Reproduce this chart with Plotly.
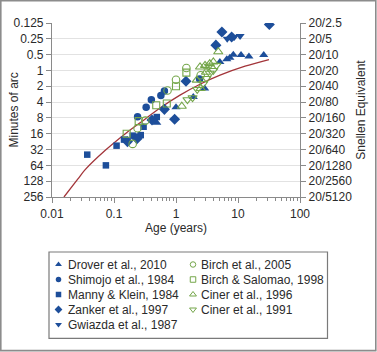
import math
import plotly.graph_objects as go

# ---------------- data (age in years, acuity in minutes of arc) ----------------
drover_age = [0.49, 1.0, 1.9, 2.9, 5.1, 6.6, 7.4, 8.4, 11.2, 15, 26]
drover_mar = [9.9, 5.0, 3.2, 2.2, 0.69, 0.61, 0.57, 0.50, 0.51, 0.54, 0.51]

shimojo_age = [0.24, 0.33, 0.40, 0.57, 0.65, 2.4]
shimojo_mar = [7.6, 5.0, 3.6, 3.0, 2.45, 1.46]

manny_age = [0.037, 0.074, 0.11, 0.145, 0.20, 0.24, 0.27, 0.30, 0.49]
manny_mar = [40, 64, 27, 20.7, 17.4, 18.3, 17, 11.8, 7.7]

zanker_age = [0.165, 0.235, 0.41, 0.65, 0.95, 1.45, 4.4, 5.5, 7.9, 32]
zanker_mar = [22.6, 20, 8.8, 5.5, 8.5, 1.6, 0.33, 0.185, 0.23, 0.134]

gwiazda_age = [6.7, 8.7, 10.8]
gwiazda_mar = [0.25, 0.23, 0.22]

birch05_age = [0.20, 0.24, 0.32, 0.73, 1.0, 1.47, 2.5]
birch05_mar = [25, 12.6, 9.0, 2.4, 1.5, 0.9, 1.23]

birchsal_age = [0.16, 0.25, 0.48, 0.71, 1.0, 1.47]
birchsal_mar = [16, 9.2, 4.6, 4.25, 2.0, 1.1]

ciner96_age = [1.24, 2.16, 2.44, 2.94, 3.5, 4.0, 4.8, 3.05, 2.5]
ciner96_mar = [4.8, 1.53, 0.86, 0.80, 0.74, 0.69, 0.44, 1.08, 2.2]

ciner91_age = [1.53, 1.85, 2.2, 2.76, 3.1, 3.5, 4.0, 4.5, 3.4]
ciner91_mar = [3.6, 3.3, 2.3, 1.77, 1.42, 1.13, 1.0, 0.80, 0.83]

curve_age = [0.0156, 0.0262, 0.034, 0.0716, 0.156, 0.316, 0.552, 1.16, 2.44, 5.13, 13.0, 31.6]
curve_mar = [256, 116, 78, 33.4, 15.6, 8.45, 5.2, 2.95, 1.83, 1.23, 0.83, 0.62]

mar_ticks = [0.125, 0.25, 0.5, 1, 2, 4, 8, 16, 32, 64, 128, 256]
mar_labels = ["0.125", "0.25", "0.5", "1", "2", "4", "8", "16", "32", "64", "128", "256"]
snellen_labels = ["20/2.5", "20/5", "20/10", "20/20", "20/40", "20/80", "20/160",
                  "20/320", "20/640", "20/1280", "20/2560", "20/5120"]
age_ticks = [0.01, 0.1, 1, 10, 100]
age_labels = ["0.01", "0.1", "1", "10", "100"]

# ---------------- styling ----------------
BLUE = "#1d4e9a"
GREEN = "#74a64a"
RED = "#a3353a"
TXT = "#2a2a2a"
AX = "#8a8a8a"
FONT = "Liberation Sans, Arial, Helvetica, sans-serif"

W, H = 377, 352
ML, MR, MT, MB = 52, 77, 23, 0
PLOT_BOTTOM = 197  # pixel row of the x axis
PAPER_H = H - MT - MB
PAPER_BOTTOM = H - MB

series = [
    ("Drover et al., 2010", drover_age, drover_mar, "triangle-up", BLUE, True, 8),
    ("Shimojo et al., 1984", shimojo_age, shimojo_mar, "circle", BLUE, True, 7.5),
    ("Manny & Klein, 1984", manny_age, manny_mar, "square", BLUE, True, 6.5),
    ("Zanker et al., 1997", zanker_age, zanker_mar, "diamond", BLUE, True, 8.5),
    ("Gwiazda et al., 1987", gwiazda_age, gwiazda_mar, "triangle-down", BLUE, True, 8),
    ("Birch et al., 2005", birch05_age, birch05_mar, "circle-open", GREEN, False, 7.5),
    ("Birch & Salomao, 1998", birchsal_age, birchsal_mar, "square-open", GREEN, False, 7),
    ("Ciner et al., 1996", ciner96_age, ciner96_mar, "triangle-up-open", GREEN, False, 8),
    ("Ciner et al., 1991", ciner91_age, ciner91_mar, "triangle-down-open", GREEN, False, 8),
]


def px_x(px):
    return (px - ML) / (W - ML - MR)


def px_y(py):
    return (PAPER_BOTTOM - py) / PAPER_H


fig = go.Figure()

fig.add_trace(go.Scatter(x=curve_age, y=curve_mar, mode="lines", name="fit",
                         line=dict(color=RED, width=1.3, shape="spline", smoothing=0.8),
                         showlegend=False, hoverinfo="skip"))
# carries the Snellen (right) axis
fig.add_trace(go.Scatter(x=curve_age, y=curve_mar, yaxis="y2", mode="none",
                         showlegend=False, hoverinfo="skip"))

for name, xs, ys, sym, col, filled, size in series:
    fig.add_trace(go.Scatter(
        x=xs, y=ys, mode="markers", name=name, showlegend=False,
        marker=dict(symbol=sym, size=size, color=col,
                    line=dict(color=col, width=1.1 if not filled else 0))))

# ---------------- hand-built two-column legend ----------------
LEG_X0, LEG_X1, LEG_Y0, LEG_Y1 = 49, 327.5, 252, 338.3
col_marker_x = [58.5, 193]
col_text_x = [65.5, 199]
row0, row_step = 264.5, 15
LEG_DOMAIN_TOP = 0.4
leg_top_px = PAPER_BOTTOM - LEG_DOMAIN_TOP * PAPER_H
for i, (name, xs, ys, sym, col, filled, size) in enumerate(series):
    c = 0 if i < 5 else 1
    r = i if i < 5 else i - 5
    yy = row0 + r * row_step
    fig.add_trace(go.Scatter(
        x=[col_marker_x[c]], y=[yy], xaxis="x3", yaxis="y3", mode="markers",
        showlegend=False, hoverinfo="skip",
        marker=dict(symbol=sym, size=6 if "triangle" in sym or "diamond" in sym else 5.5,
                    color=col, line=dict(color=col, width=1 if not filled else 0))))
    fig.add_annotation(x=col_text_x[c], y=yy, xref="x3", yref="y3", text=name,
                       showarrow=False, xanchor="left", yanchor="middle",
                       font=dict(family=FONT, size=12, color=TXT))

# left axis title
fig.add_annotation(x=px_x(13.5), y=px_y(110), xref="paper", yref="paper",
                   text="Minutes of arc", textangle=-90, showarrow=False,
                   xanchor="center", yanchor="middle",
                   font=dict(family=FONT, size=12, color=TXT))

shapes = [
    dict(type="rect", xref="paper", yref="paper",
         x0=px_x(LEG_X0), x1=px_x(LEG_X1), y0=px_y(LEG_Y1), y1=px_y(LEG_Y0),
         line=dict(color="#7a7a7a", width=1.2), fillcolor="rgba(0,0,0,0)"),
    dict(type="rect", xref="paper", yref="paper",
         x0=px_x(0.8), x1=px_x(375.8), y0=px_y(350.6), y1=px_y(0.8),
         line=dict(color="#8c8c8c", width=1.6), fillcolor="rgba(0,0,0,0)"),
]

main_bottom = (PAPER_BOTTOM - PLOT_BOTTOM) / PAPER_H
ylog_range = [math.log10(256), math.log10(0.125)]

fig.update_layout(
    template="none",
    width=W, height=H, autosize=False,
    margin=dict(l=ML, r=MR, t=MT, b=MB, pad=0),
    paper_bgcolor="white", plot_bgcolor="white",
    font=dict(family=FONT, size=12, color=TXT),
    showlegend=False,
    shapes=shapes,
    xaxis=dict(type="log", range=[-2, 2], tickmode="array", tickvals=age_ticks,
               ticktext=age_labels, ticks="outside", ticklen=5, tickcolor=AX,
               showline=True, linecolor=AX, linewidth=1.2, showgrid=False,
               zeroline=False, anchor="y", domain=[0, 1], automargin=False,
               minor=dict(ticks="outside", ticklen=3, tickcolor=AX, dtick="D1", showgrid=False),
               tickfont=dict(size=12, color=TXT),
               title=dict(text="Age (years)", font=dict(size=12, color=TXT), standoff=4)),
    yaxis=dict(type="log", range=ylog_range, tickmode="array", tickvals=mar_ticks,
               ticktext=mar_labels, ticks="outside", ticklen=5, tickcolor=AX,
               showline=True, linecolor=AX, linewidth=1.2, showgrid=True,
               gridcolor="#e2e2e2", gridwidth=1, zeroline=False, automargin=False,
               domain=[main_bottom, 1], anchor="x",
               tickfont=dict(size=12, color=TXT)),
    yaxis2=dict(type="log", range=ylog_range, tickmode="array", tickvals=mar_ticks,
                ticktext=snellen_labels, ticks="outside", ticklen=5, tickcolor=AX,
                showline=True, linecolor=AX, linewidth=1.2, showgrid=False,
                zeroline=False, overlaying="y", side="right", anchor="x", automargin=False,
                tickfont=dict(size=12, color=TXT),
                title=dict(text="Snellen Equivalent", font=dict(size=12, color=TXT), standoff=5)),
    xaxis3=dict(domain=[0, 1], range=[ML, W - MR], visible=False, fixedrange=True,
                anchor="y3", automargin=False),
    yaxis3=dict(domain=[0, LEG_DOMAIN_TOP], range=[PAPER_BOTTOM, leg_top_px], visible=False,
                fixedrange=True, anchor="x3", automargin=False),
)

fig.write_html("out.html")
